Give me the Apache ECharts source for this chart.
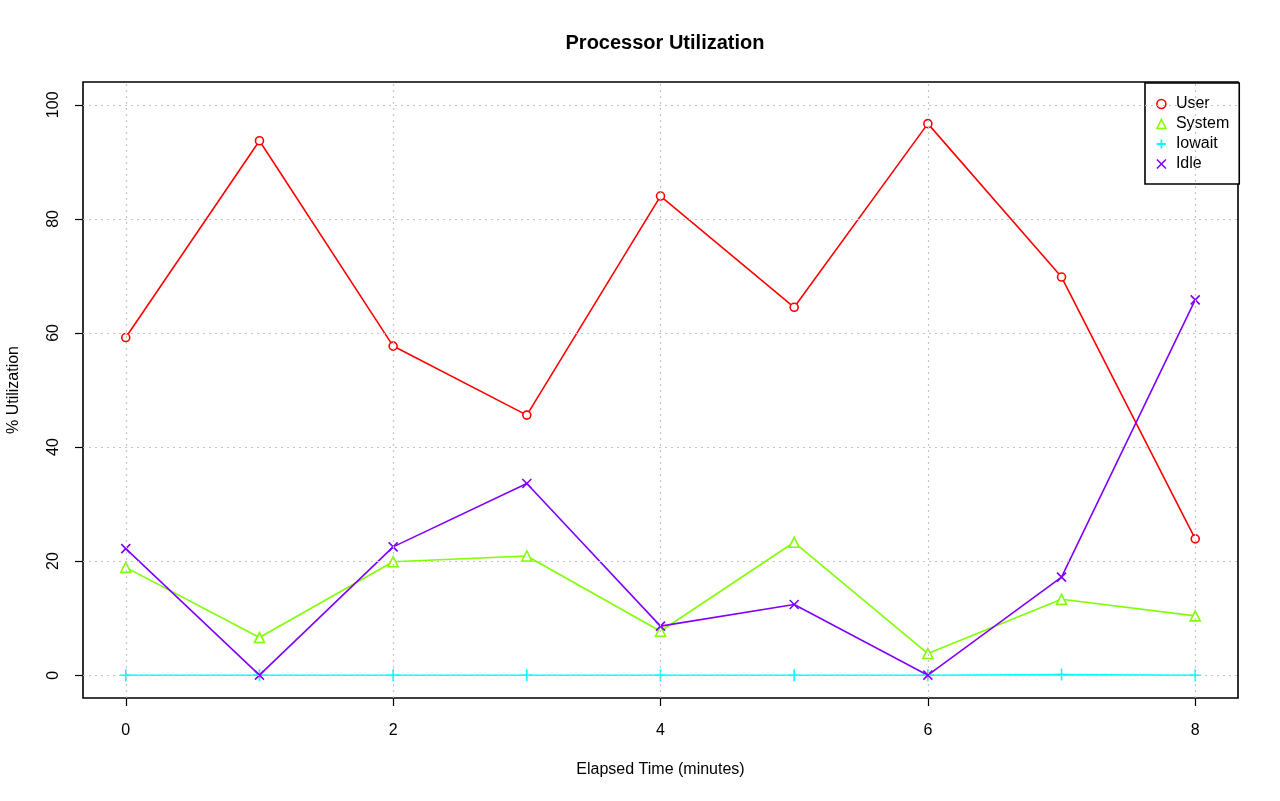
<!DOCTYPE html>
<html><head><meta charset="utf-8">
<script src="https://cdn.jsdelivr.net/npm/echarts@6/dist/echarts.min.js"></script>
<style>html,body{margin:0;padding:0;background:#fff}#c{width:1280px;height:801px}</style>
</head><body><div id="c"></div>
<script>
const minutes = [0,1,2,3,4,5,6,7,8];
const userVals   = [59.2, 93.7, 57.7, 45.6, 84.0, 64.5, 96.7, 69.8, 23.9];
const systemVals = [18.9, 6.6, 19.9, 20.9, 7.7, 23.3, 3.8, 13.3, 10.4];
const iowaitVals = [0, 0, 0, 0, 0, 0, 0, 0.1, 0];
const idleVals   = [22.2, 0, 22.5, 33.6, 8.6, 12.4, 0, 17.2, 65.8];
const xTicks = [0,2,4,6,8];
const yTicks = [0,20,40,60,80,100];

const FONT = 'Liberation Sans, Arial, sans-serif';
const plusPath = 'path://M5,0L5,10M0,5L10,5';
const crossPath = 'path://M0,0L10,10M0,10L10,0';
const gridLine = {color: '#c4c4c4', type: [2,4], width: 1.2};

function mk(name, vals, color, symbol, size, fill) {
  return {
    name, type: 'line',
    data: minutes.map((m,i)=>[m, vals[i]]),
    symbol, symbolSize: size, showSymbol: true,
    lineStyle: {color, width: 1.6},
    itemStyle: {color: fill, borderColor: color, borderWidth: 1.6},
    emphasis: {disabled: true},
    z: 3
  };
}

const chart = echarts.init(document.getElementById('c'), null, {renderer:'canvas'});
chart.setOption({
  animation: false,
  backgroundColor: '#fff',
  textStyle: {fontFamily: FONT},
  title: {text: 'Processor Utilization', left: 660, top: 28, textAlign: 'center',
    textStyle: {fontFamily: FONT, fontSize: 20, fontWeight: 'bold', color: '#000'}},
  grid: {left: 83, right: 42, top: 82, bottom: 103, show: true, borderColor: '#000', borderWidth: 1.6,
    backgroundColor: 'transparent', containLabel: false, outerBoundsMode: 'none'},
  legend: {
    orient: 'vertical', left: 1145, top: 83,
    padding: [13, 10, 12, 11], itemWidth: 9, itemHeight: 9, itemGap: 4,
    borderColor: '#000', borderWidth: 1.6, backgroundColor: '#fff',
    textStyle: {fontFamily: FONT, fontSize: 16, lineHeight: 16, color: '#000', padding: [0, 0, 0, 5]},
    data: [
      {name: 'User', icon: 'circle', itemStyle: {color: '#fff', borderColor: '#FF0000', borderWidth: 1.6}},
      {name: 'System', icon: 'triangle', itemStyle: {color: '#fff', borderColor: '#80FF00', borderWidth: 1.6}},
      {name: 'Iowait', icon: plusPath, itemStyle: {color: 'transparent', borderColor: '#00FFFF', borderWidth: 1.8}},
      {name: 'Idle', icon: crossPath, itemStyle: {color: 'transparent', borderColor: '#8000FF', borderWidth: 1.6}}
    ]
  },
  xAxis: {
    type: 'value', min: -0.32, max: 8.32,
    name: 'Elapsed Time (minutes)', nameLocation: 'middle', nameGap: 64,
    nameTextStyle: {fontFamily: FONT, fontSize: 16, color: '#000'},
    axisLine: {show: false, onZero: false},
    axisTick: {show: true, inside: false, length: 8, lineStyle: {color: '#000', width: 1.2}, customValues: xTicks},
    axisLabel: {customValues: xTicks, fontFamily: FONT, fontSize: 16, color: '#000', margin: 25},
    splitLine: {show: false}
  },
  yAxis: {
    type: 'value', min: -4, max: 104,
    name: '% Utilization', nameLocation: 'middle', nameGap: 61,
    nameTextStyle: {fontFamily: FONT, fontSize: 16, color: '#000'},
    axisLine: {show: false, onZero: false},
    axisTick: {show: true, inside: false, length: 8, lineStyle: {color: '#000', width: 1.2}, customValues: yTicks},
    axisLabel: {customValues: yTicks, rotate: 90, fontFamily: FONT, fontSize: 16, color: '#000', margin: 21},
    splitLine: {show: false}
  },
  series: [
    {
      name: '_grid', type: 'line', data: [], silent: true, z: 1,
      markLine: {
        silent: true, symbol: 'none', animation: false,
        label: {show: false}, lineStyle: gridLine, emphasis: {disabled: true},
        data: xTicks.map(v => ({xAxis: v})).concat(yTicks.map(v => ({yAxis: v})))
      }
    },
    mk('User', userVals, '#FF0000', 'circle', 8, '#fff'),
    mk('System', systemVals, '#80FF00', 'triangle', 10, '#fff'),
    mk('Iowait', iowaitVals, '#00FFFF', plusPath, 12, 'transparent'),
    mk('Idle', idleVals, '#8000FF', crossPath, 9, 'transparent')
  ]
});
</script></body></html>
